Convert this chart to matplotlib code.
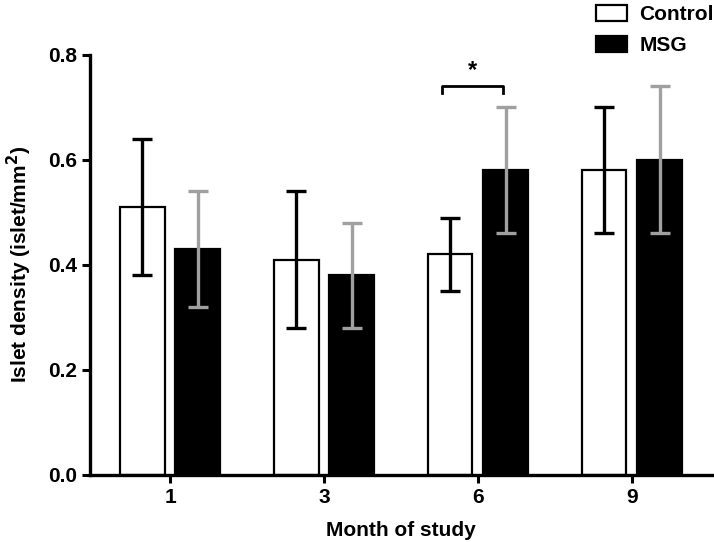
import numpy as np
import matplotlib.pyplot as plt

plt.rcParams['font.family'] = ['Liberation Sans', 'DejaVu Sans']
plt.rcParams['font.weight'] = 'bold'

months = ['1', '3', '6', '9']
control = [0.51, 0.41, 0.42, 0.58]
control_hi = [0.64, 0.54, 0.49, 0.70]
control_lo = [0.38, 0.28, 0.35, 0.46]
msg = [0.43, 0.38, 0.58, 0.60]
msg_hi = [0.54, 0.48, 0.70, 0.74]
msg_lo = [0.32, 0.28, 0.46, 0.46]

x = np.arange(len(months))
w = 0.29
off = 0.18

fig = plt.figure(figsize=(7.14, 5.42), dpi=100)
ax = fig.add_axes([0.126, 0.124, 0.871, 0.775])

c_err = [np.array(control) - np.array(control_lo), np.array(control_hi) - np.array(control)]
m_err = [np.array(msg) - np.array(msg_lo), np.array(msg_hi) - np.array(msg)]

ax.bar(x - off, control, w, color='white', edgecolor='black', linewidth=1.6,
       label='Control', zorder=2)
ax.bar(x + off, msg, w, color='black', edgecolor='black', linewidth=1.6,
       label='MSG', zorder=2)
ax.errorbar(x - off, control, yerr=c_err, fmt='none', ecolor='black',
            elinewidth=2.4, capsize=7.5, capthick=2.4, zorder=3)
ax.errorbar(x + off, msg, yerr=m_err, fmt='none', ecolor='#a0a0a0',
            elinewidth=2.4, capsize=7.5, capthick=2.4, zorder=3)

# significance bracket at month 6
bx0, bx1, by = 1.77, 2.16, 0.741
ax.plot([bx0, bx0, bx1, bx1], [by - 0.013, by, by, by - 0.013], color='black',
        lw=2, clip_on=False)
ax.text((bx0 + bx1) / 2, by + 0.008, '*', ha='center', va='bottom',
        fontsize=17, fontweight='bold')

ax.set_xlim(-0.52, 3.52)
ax.set_ylim(0, 0.8)
ax.set_xticks(x)
ax.set_xticklabels(months)
ax.set_yticks([0.0, 0.2, 0.4, 0.6, 0.8])
ax.set_yticklabels(['0.0', '0.2', '0.4', '0.6', '0.8'])
ax.tick_params(axis='both', width=2.2, length=6, labelsize=15, direction='out')
for s in ['top', 'right']:
    ax.spines[s].set_visible(False)
for s in ['left', 'bottom']:
    ax.spines[s].set_linewidth(2.4)

ax.set_xlabel('Month of study', fontsize=15, fontweight='bold', labelpad=10)
ax.set_ylabel('Islet density (islet/mm$^\\mathbf{2}$)', fontsize=15,
              fontweight='bold', labelpad=10)

fig.legend(loc='upper left', bbox_to_anchor=(0.808, 1.025), frameon=False,
           fontsize=15, handlelength=1.5, handleheight=0.8, labelspacing=0.55,
           handletextpad=0.6)

fig.savefig('out.png', dpi=100)
